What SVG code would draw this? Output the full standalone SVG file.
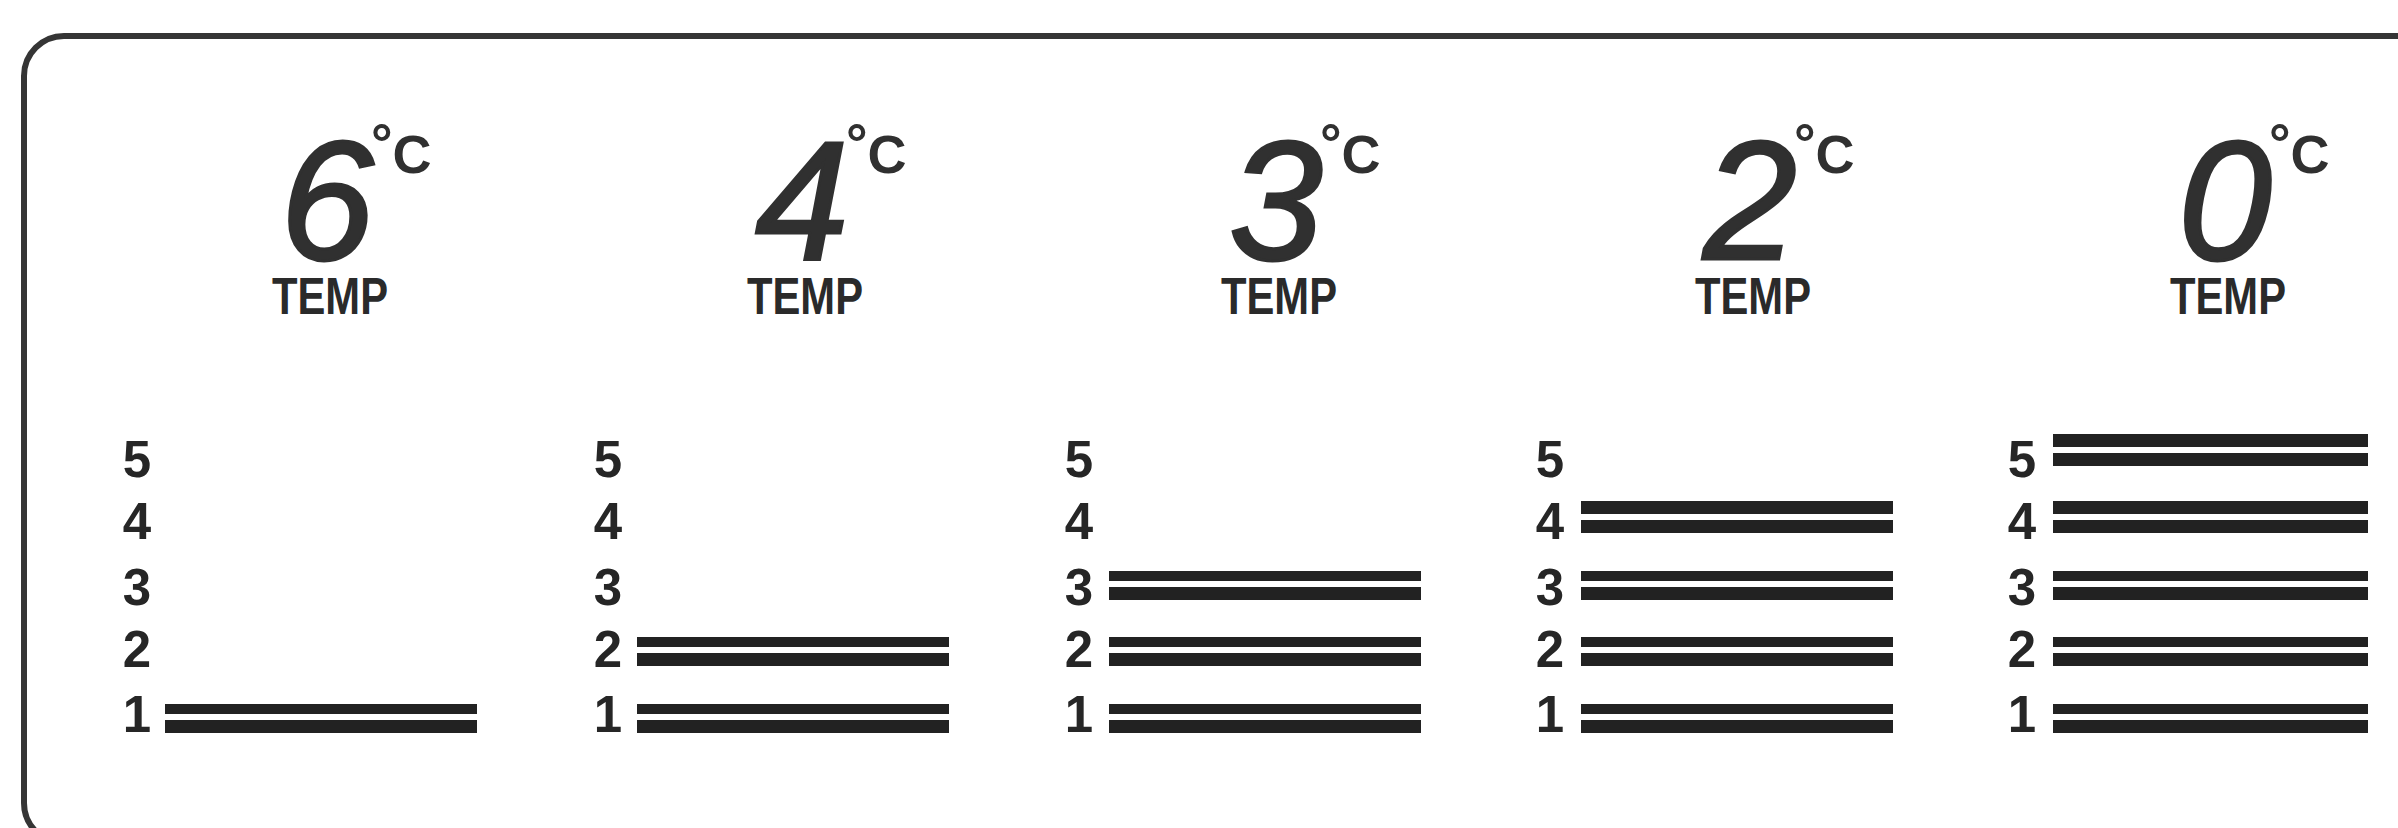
<svg xmlns="http://www.w3.org/2000/svg" width="2398" height="828" viewBox="0 0 2398 828">
<style>
.frame{fill:none;stroke:#353535;stroke-width:6}
.big{font-family:"Liberation Sans",Arial,sans-serif;font-style:italic;font-size:168px;fill:#303030;stroke:#303030;stroke-width:3;text-anchor:middle}
.deg{font-family:"Liberation Sans",Arial,sans-serif;font-weight:bold;font-size:54px;fill:#303030}
.temp{font-family:"Liberation Sans",Arial,sans-serif;font-weight:bold;font-size:51px;fill:#2a2a2a;text-anchor:middle}
.lbl{font-family:"Liberation Sans",Arial,sans-serif;font-weight:bold;font-size:51px;fill:#262626;text-anchor:middle}
.bar{fill:#222}
</style>
<rect width="2398" height="828" fill="#fff"/>
<rect class="frame" x="24" y="36" width="2600" height="807" rx="40" ry="40"/>

<g id="col1">
  <text class="big" x="327" y="259">6</text>
  <text class="deg" x="371" y="162">°<tspan dy="11">C</tspan></text>
  <text class="temp" x="330" y="314" textLength="116" lengthAdjust="spacingAndGlyphs">TEMP</text>
  <text class="lbl" x="137" y="477">5</text>
  <text class="lbl" x="137" y="539">4</text>
  <text class="lbl" x="137" y="605">3</text>
  <text class="lbl" x="137" y="667">2</text>
  <text class="lbl" x="137" y="732">1</text>
  <rect class="bar" x="165" y="704" width="312" height="10"/>
  <rect class="bar" x="165" y="720" width="312" height="13"/>
</g>

<g id="col2">
  <text class="big" x="802" y="259">4</text>
  <text class="deg" x="846" y="162">°<tspan dy="11">C</tspan></text>
  <text class="temp" x="805" y="314" textLength="116" lengthAdjust="spacingAndGlyphs">TEMP</text>
  <text class="lbl" x="608" y="477">5</text>
  <text class="lbl" x="608" y="539">4</text>
  <text class="lbl" x="608" y="605">3</text>
  <text class="lbl" x="608" y="667">2</text>
  <text class="lbl" x="608" y="732">1</text>
  <rect class="bar" x="637" y="637" width="312" height="10"/>
  <rect class="bar" x="637" y="653" width="312" height="13"/>
  <rect class="bar" x="637" y="704" width="312" height="10"/>
  <rect class="bar" x="637" y="720" width="312" height="13"/>
</g>

<g id="col3">
  <text class="big" x="1276" y="259">3</text>
  <text class="deg" x="1320" y="162">°<tspan dy="11">C</tspan></text>
  <text class="temp" x="1279" y="314" textLength="116" lengthAdjust="spacingAndGlyphs">TEMP</text>
  <text class="lbl" x="1079" y="477">5</text>
  <text class="lbl" x="1079" y="539">4</text>
  <text class="lbl" x="1079" y="605">3</text>
  <text class="lbl" x="1079" y="667">2</text>
  <text class="lbl" x="1079" y="732">1</text>
  <rect class="bar" x="1109" y="571" width="312" height="10"/>
  <rect class="bar" x="1109" y="587" width="312" height="13"/>
  <rect class="bar" x="1109" y="637" width="312" height="10"/>
  <rect class="bar" x="1109" y="653" width="312" height="13"/>
  <rect class="bar" x="1109" y="704" width="312" height="10"/>
  <rect class="bar" x="1109" y="720" width="312" height="13"/>
</g>

<g id="col4">
  <text class="big" x="1750" y="259">2</text>
  <text class="deg" x="1794" y="162">°<tspan dy="11">C</tspan></text>
  <text class="temp" x="1753" y="314" textLength="116" lengthAdjust="spacingAndGlyphs">TEMP</text>
  <text class="lbl" x="1550" y="477">5</text>
  <text class="lbl" x="1550" y="539">4</text>
  <text class="lbl" x="1550" y="605">3</text>
  <text class="lbl" x="1550" y="667">2</text>
  <text class="lbl" x="1550" y="732">1</text>
  <rect class="bar" x="1581" y="501" width="312" height="13"/>
  <rect class="bar" x="1581" y="520" width="312" height="13"/>
  <rect class="bar" x="1581" y="571" width="312" height="10"/>
  <rect class="bar" x="1581" y="587" width="312" height="13"/>
  <rect class="bar" x="1581" y="637" width="312" height="10"/>
  <rect class="bar" x="1581" y="653" width="312" height="13"/>
  <rect class="bar" x="1581" y="704" width="312" height="10"/>
  <rect class="bar" x="1581" y="720" width="312" height="13"/>
</g>

<g id="col5">
  <text class="big" x="2225" y="259">0</text>
  <text class="deg" x="2269" y="162">°<tspan dy="11">C</tspan></text>
  <text class="temp" x="2228" y="314" textLength="116" lengthAdjust="spacingAndGlyphs">TEMP</text>
  <text class="lbl" x="2022" y="477">5</text>
  <text class="lbl" x="2022" y="539">4</text>
  <text class="lbl" x="2022" y="605">3</text>
  <text class="lbl" x="2022" y="667">2</text>
  <text class="lbl" x="2022" y="732">1</text>
  <rect class="bar" x="2053" y="434" width="315" height="13"/>
  <rect class="bar" x="2053" y="453" width="315" height="13"/>
  <rect class="bar" x="2053" y="501" width="315" height="13"/>
  <rect class="bar" x="2053" y="520" width="315" height="13"/>
  <rect class="bar" x="2053" y="571" width="315" height="10"/>
  <rect class="bar" x="2053" y="587" width="315" height="13"/>
  <rect class="bar" x="2053" y="637" width="315" height="10"/>
  <rect class="bar" x="2053" y="653" width="315" height="13"/>
  <rect class="bar" x="2053" y="704" width="315" height="10"/>
  <rect class="bar" x="2053" y="720" width="315" height="13"/>
</g>
</svg>
